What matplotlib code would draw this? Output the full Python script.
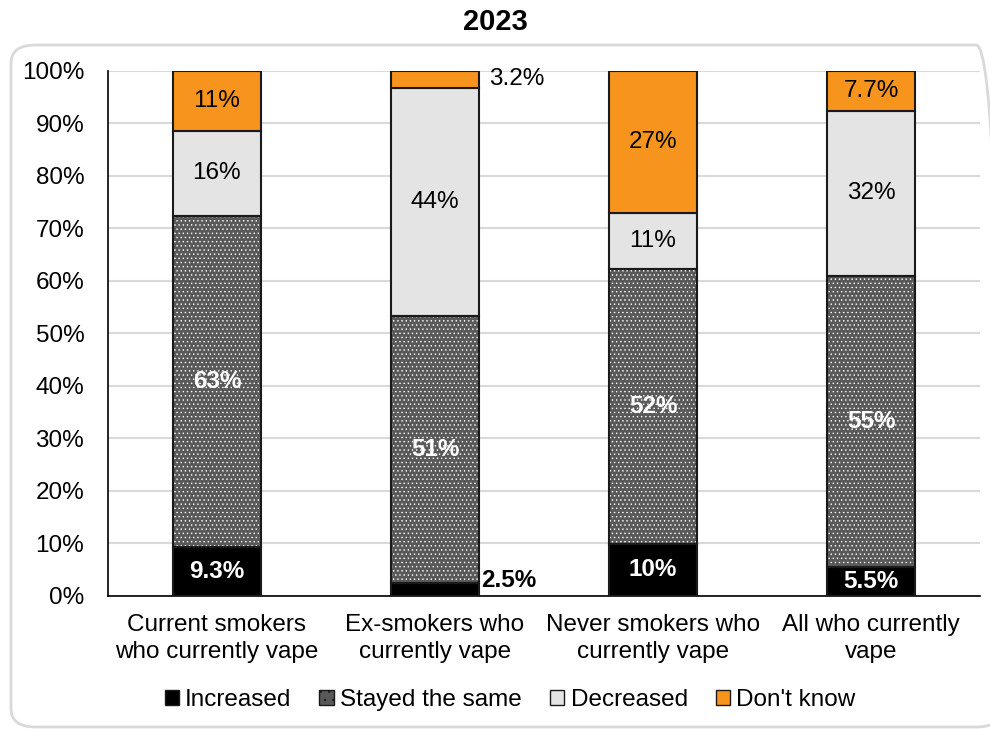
import numpy as np
import matplotlib
matplotlib.use("Agg")
import matplotlib.pyplot as plt
from matplotlib.patches import FancyBboxPatch, Patch

plt.rcParams["font.family"] = ["Liberation Sans", "DejaVu Sans"]
plt.rcParams["hatch.linewidth"] = 0.5

# Data (percent of each group)
groups = ["Current smokers\nwho currently vape", "Ex-smokers who\ncurrently vape",
          "Never smokers who\ncurrently vape", "All who currently\nvape"]
series_names = ["Increased", "Stayed the same", "Decreased", "Don't know"]
increased = [9.3, 2.5, 9.9, 5.5]
stayed = [63.1, 50.8, 52.3, 55.4]
decreased = [16.2, 43.5, 10.8, 31.5]
dont_know = [11.4, 3.2, 27.0, 7.6]
labels_increased = ["9.3%", "2.5%", "10%", "5.5%"]
labels_stayed = ["63%", "51%", "52%", "55%"]
labels_decreased = ["16%", "44%", "11%", "32%"]
labels_dont_know = ["11%", "3.2%", "27%", "7.7%"]

fig = plt.figure(figsize=(9.9, 7.29), dpi=100)
ax = fig.add_axes([0.109, 0.1825, 0.881, 0.7205])

# rounded chart frame
frame = FancyBboxPatch((11 / 990, 2 / 729), 990 / 990, 682 / 729,
                       boxstyle="round,pad=0,rounding_size=0.025",
                       transform=fig.transFigure, facecolor="none",
                       edgecolor="#d9d9d9", linewidth=2, clip_on=False)
fig.patches.append(frame)

x = np.arange(len(groups))
width = 0.4
edge = "#1a1a1a"

inc = np.array(increased)
sta = np.array(stayed)
dec = np.array(decreased)
dk = np.array(dont_know)

ax.bar(x, inc, width, color="black", edgecolor=edge, linewidth=1.5, zorder=3)
# hatched segment: white dots, then a dark outline on top
ax.bar(x, sta, width, bottom=inc, color="#595959", edgecolor="white",
       hatch="....", linewidth=0, zorder=3)
ax.bar(x, sta, width, bottom=inc, facecolor="none", edgecolor=edge,
       linewidth=1.5, zorder=4)
ax.bar(x, dec, width, bottom=inc + sta, color="#e4e4e4", edgecolor=edge,
       linewidth=1.5, zorder=3)
ax.bar(x, dk, width, bottom=inc + sta + dec, color="#f7941d", edgecolor=edge,
       linewidth=1.5, zorder=3)

fs = 17.5
for i in range(len(groups)):
    # Increased
    if inc[i] < 5:
        ax.text(x[i] + width / 2 + 0.01, inc[i] + 0.5, labels_increased[i],
                ha="left", va="center", fontsize=fs, fontweight="bold",
                color="black", zorder=5)
    else:
        ax.text(x[i], inc[i] / 2, labels_increased[i], ha="center", va="center",
                fontsize=fs, fontweight="bold", color="white", zorder=5)
    ax.text(x[i], inc[i] + sta[i] / 2, labels_stayed[i], ha="center", va="center",
            fontsize=fs, fontweight="bold", color="white", zorder=5)
    ax.text(x[i], inc[i] + sta[i] + dec[i] / 2, labels_decreased[i],
            ha="center", va="center", fontsize=fs, color="black", zorder=5)
    top_mid = inc[i] + sta[i] + dec[i] + dk[i] / 2
    if dk[i] < 5:
        ax.text(x[i] + width / 2 + 0.05, top_mid, labels_dont_know[i],
                ha="left", va="center", fontsize=fs, color="black", zorder=5)
    else:
        ax.text(x[i], top_mid, labels_dont_know[i], ha="center", va="center",
                fontsize=fs, color="black", zorder=5)

ax.set_xlim(-0.5, 3.5)
ax.set_ylim(0, 100)
ax.set_yticks(np.arange(0, 101, 10))
ax.set_yticklabels([f"{v}%" for v in range(0, 101, 10)])
ax.set_xticks(x)
ax.set_xticklabels(groups)
for lab in ax.get_xticklabels():
    lab.set_linespacing(1.3)
ax.tick_params(axis="both", length=0, labelsize=fs)
ax.tick_params(axis="x", pad=13)
ax.tick_params(axis="y", pad=17)
ax.grid(axis="y", color="#d9d9d9", linewidth=1.5, zorder=0)
ax.set_axisbelow(True)
for s in ["top", "right"]:
    ax.spines[s].set_visible(False)
ax.spines["left"].set_color("black")
ax.spines["bottom"].set_color("black")
ax.spines["left"].set_linewidth(1.2)
ax.spines["bottom"].set_linewidth(1.2)

fig.text(0.5, 1 - 22 / 729, "2023", ha="center", va="center",
         fontsize=21, fontweight="bold")

handles = [
    Patch(facecolor="black", edgecolor=edge),
    Patch(facecolor="#595959", edgecolor=edge, hatch=".."),
    Patch(facecolor="#e4e4e4", edgecolor=edge),
    Patch(facecolor="#f7941d", edgecolor=edge),
]
fig.legend(handles, series_names, loc="center", ncol=4,
           bbox_to_anchor=(510 / 990, 1 - 700 / 729), frameon=False,
           fontsize=fs, handlelength=0.6, handleheight=0.6,
           handletextpad=0.25, columnspacing=1.15)

fig.savefig("out.png", dpi=100)
